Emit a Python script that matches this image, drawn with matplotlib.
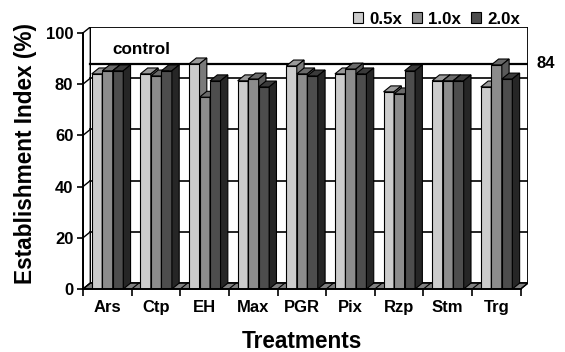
import matplotlib
matplotlib.use('Agg')
import matplotlib.pyplot as plt
from matplotlib.patches import Polygon, Rectangle, Patch

plt.rcParams['font.family'] = ['Liberation Sans', 'DejaVu Sans']
plt.rcParams['font.weight'] = 'bold'

treatments = ['Ars', 'Ctp', 'EH', 'Max', 'PGR', 'Pix', 'Rzp', 'Stm', 'Trg']
rate_labels = ['0.5x', '1.0x', '2.0x']
idx_05 = [84.0, 84.0, 87.9, 81.3, 87.1, 84.0, 77.0, 81.3, 78.9]
idx_10 = [85.2, 83.2, 74.9, 82.0, 84.0, 85.9, 76.2, 81.3, 87.5]
idx_20 = [85.2, 85.2, 81.3, 78.9, 83.2, 84.0, 85.2, 81.3, 82.0]
control_value = 84
control_level = 85.5   # where the control line sits on the back wall

front = ['#cccccc', '#8c8c8c', '#4d4d4d']
tops = ['#9a9a9a', '#6a6a6a', '#3a3a3a']
sides = ['#7a7a7a', '#5a5a5a', '#262626']

# fake 3D depth (x in category units, y in index units)
DX, DY = 0.15, 2.3
W = 0.216
OFF = 0.18

W_PX, H_PX = 565, 352
fig = plt.figure(figsize=(W_PX / 100, H_PX / 100), dpi=100)
ax = fig.add_axes([83 / W_PX, (H_PX - 289) / H_PX, 445 / W_PX, 262 / H_PX])
n = len(treatments)
ax.set_xlim(0, n + DX)
ax.set_ylim(0, 100 + DY)

# walls and floor
ax.add_patch(Rectangle((DX, DY), n, 100, facecolor='white', edgecolor='black', lw=1.3, zorder=0.5))
ax.add_patch(Polygon([(0, 0), (DX, DY), (DX, 100 + DY), (0, 100)], closed=True,
                     facecolor='white', edgecolor='black', lw=1.0, zorder=0.5))
ax.add_patch(Polygon([(0, 0), (n, 0), (n + DX, DY), (DX, DY)], closed=True,
                     facecolor='#808080', edgecolor='black', lw=1.0, zorder=0.6))
for v in range(20, 100, 20):
    ax.plot([DX, n + DX], [v + DY, v + DY], color='black', lw=1.2, zorder=0.7)
    ax.plot([0, DX], [v, v + DY], color='black', lw=1.0, zorder=0.7)
for i in range(n + 1):
    ax.plot([i, i + DX], [0, DY], color='black', lw=0.8, zorder=0.7)

# control line
ax.plot([DX, n + DX], [control_level + DY] * 2, color='black', lw=1.6, zorder=0.8)

# bars
series = [idx_05, idx_10, idx_20]
z = 1
for i in range(n):
    for k, vals in enumerate(series):
        x0 = i + OFF + k * W
        v = vals[i]
        ax.bar(x0, v, width=W, align='edge', color=front[k], edgecolor='black', lw=0.8, zorder=z)
        ax.add_patch(Polygon([(x0, v), (x0 + W, v), (x0 + W + DX, v + DY), (x0 + DX, v + DY)],
                             closed=True, facecolor=tops[k], edgecolor='black', lw=0.8, zorder=z))
        ax.add_patch(Polygon([(x0 + W, 0), (x0 + W + DX, DY), (x0 + W + DX, v + DY), (x0 + W, v)],
                             closed=True, facecolor=sides[k], edgecolor='black', lw=0.8, zorder=z))
        z += 1

# axes
for s in ['top', 'right']:
    ax.spines[s].set_visible(False)
ax.spines['left'].set_bounds(0, 100)
ax.spines['bottom'].set_bounds(0, n)
ax.spines['left'].set_linewidth(1.4)
ax.spines['bottom'].set_linewidth(1.4)
ax.spines['left'].set_zorder(200)
ax.spines['bottom'].set_zorder(200)
ax.set_yticks(range(0, 101, 20))
ax.tick_params(axis='y', direction='out', length=4, width=1.2, labelsize=12, pad=3)
ax.set_xticks(range(n + 1))
ax.set_xticklabels([])
ax.tick_params(axis='x', which='major', direction='out', length=5, width=1.2)
ax.set_xticks([i + 0.5 for i in range(n)], minor=True)
ax.set_xticklabels(treatments, minor=True, fontsize=12)
ax.tick_params(axis='x', which='minor', length=0, pad=8)

def px(x, y):
    return x / W_PX, 1 - y / H_PX

fig.text(*px(141, 50), 'control', fontsize=12.3, ha='center', va='center')
fig.text(*px(546, 63), str(control_value), fontsize=12, ha='center', va='center')
fig.text(*px(302, 342), 'Treatments', fontsize=16.3, ha='center', va='center')
fig.text(*px(26, 154), 'Establishment Index (%)', fontsize=16.3, ha='center', va='center',
         rotation=90)

handles = [Patch(facecolor=c, edgecolor='black', lw=0.8) for c in front]
fig.legend(handles, rate_labels, ncol=3, loc='upper right', bbox_to_anchor=px(527, 5),
           frameon=False, handlelength=0.6, handleheight=0.6, handletextpad=0.35,
           columnspacing=0.6, borderaxespad=0, prop={'size': 12.2, 'weight': 'bold'})

fig.savefig('out.png', dpi=100)
